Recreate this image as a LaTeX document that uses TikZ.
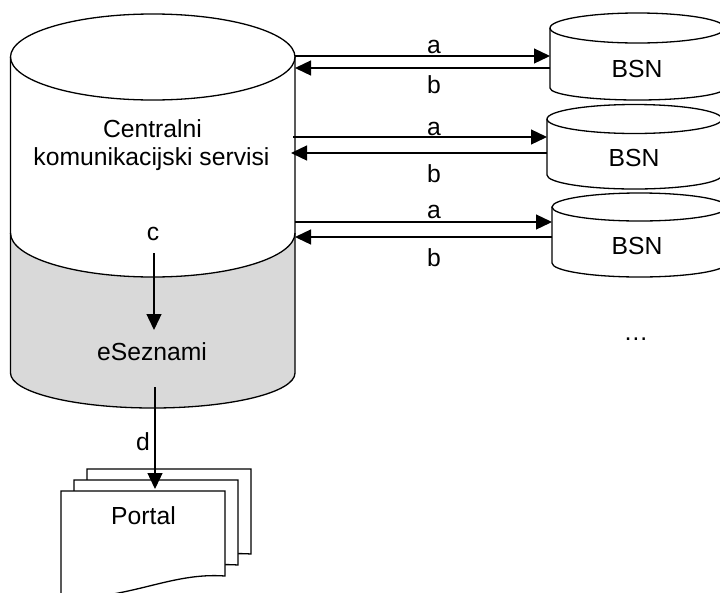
\documentclass[tikz,border=0pt]{standalone}
\usepackage{fontspec}
\setmainfont{Liberation Sans}
\usetikzlibrary{arrows.meta}
\definecolor{bandgrey}{RGB}{217,217,217}
\begin{document}
\begin{tikzpicture}[x=1pt,y=-1pt,
  outline/.style={draw=black,line width=1.3pt},
  flow/.style={draw=black,line width=1.3pt,-{Triangle[length=16pt,width=15pt]}},
  lbl/.style={inner sep=0pt,anchor=base,font=\fontsize{24.7}{29.5}\selectfont},
]
\useasboundingbox (0,0) rectangle (720,592);
\clip (0,0) rectangle (720,592);

% central cylinder: white upper part, grey lower band
\fill[bandgrey] (10.5,233) arc[start angle=180,end angle=360,x radius=142.25pt,y radius=44pt]
  -- (295,373) arc[start angle=0,end angle=-180,x radius=142.25pt,y radius=35pt] -- cycle;
\draw[outline] (152.75,57) ellipse[x radius=142.25pt,y radius=43pt];
\draw[outline] (10.5,57) -- (10.5,373)
  arc[start angle=180,end angle=360,x radius=142.25pt,y radius=35pt] -- (295,57);
\draw[outline] (10.5,233) arc[start angle=180,end angle=360,x radius=142.25pt,y radius=44pt];

\node[lbl] (hubTitleA) at (152.5,137) {Centralni};
\node[lbl] (hubTitleB) at (151.5,165) {komunikacijski servisi};
\node[lbl] (esez) at (152,360) {eSeznami};

% BSN cylinders: left x / top centre y / bottom centre y / top ry / bottom ry
\foreach \lx/\ty/\by/\rt/\rb [count=\i] in {550/28/88/15/12, 547/119/175/14.5/14, 552/207/263/14/14}{
  \fill[white] (\lx,\ty) rectangle ({\lx+175},\by);
  \draw[outline] (\lx,\ty) -- (\lx,\by)
    arc[start angle=180,end angle=360,x radius=87.5pt,y radius=\rb pt] -- ({\lx+175},\ty);
  \draw[outline] ({\lx+87.5},\ty) ellipse[x radius=87.5pt,y radius=\rt pt];
}
\node[lbl] (bsnA) at (637,77) {BSN};
\node[lbl] (bsnB) at (634,166) {BSN};
\node[lbl] (bsnC) at (637,254) {BSN};

% ports of the exchange arrows
\coordinate (hubOutA) at (295,56);  \coordinate (bsnInA)  at (550,56);
\coordinate (bsnOutA) at (550,68);  \coordinate (hubInA)  at (295,68);
\coordinate (hubOutB) at (293,137); \coordinate (bsnInB)  at (547,137);
\coordinate (bsnOutB) at (547,153); \coordinate (hubInB)  at (291,153);
\coordinate (hubOutC) at (295,222); \coordinate (bsnInC)  at (552,222);
\coordinate (bsnOutC) at (552,237); \coordinate (hubInC)  at (295,237);

\draw[flow] (hubOutA) -- (bsnInA);
\draw[flow] (bsnOutA) -- (hubInA);
\draw[flow] (hubOutB) -- (bsnInB);
\draw[flow] (bsnOutB) -- (hubInB);
\draw[flow] (hubOutC) -- (bsnInC);
\draw[flow] (bsnOutC) -- (hubInC);

\node[lbl] (reqA) at (434,53) {a};
\node[lbl] (repA) at (434,93) {b};
\node[lbl] (reqB) at (434,135) {a};
\node[lbl] (repB) at (434,182) {b};
\node[lbl] (reqC) at (434,218) {a};
\node[lbl] (repC) at (434,266) {b};

\node[lbl] (more) at (636,340) {…};

% c: from the services to eSeznami
\node[lbl] (lblC) at (153,240) {c};
\coordinate (cFrom) at (154,253);
\coordinate (cTo) at (154,330);
\draw[flow] (cFrom) -- (cTo);

% stacked portal documents, back to front
\foreach \dx/\dy in {26/-22, 13/-11, 0/0}{
  \draw[outline,fill=white,shift={(\dx,\dy)}] (61,491) -- (225,491) -- (225,576)
    .. controls (170,572) and (130,600) .. (61,598) -- cycle;
}
\node[lbl] (portal) at (143.5,524) {Portal};

% d: from eSeznami to the portal
\coordinate (dFrom) at (155,387);
\coordinate (dTo) at (155,489);
\draw[flow] (dFrom) -- (dTo);
\node[lbl] (lblD) at (143,450) {d};
\end{tikzpicture}
\end{document}
